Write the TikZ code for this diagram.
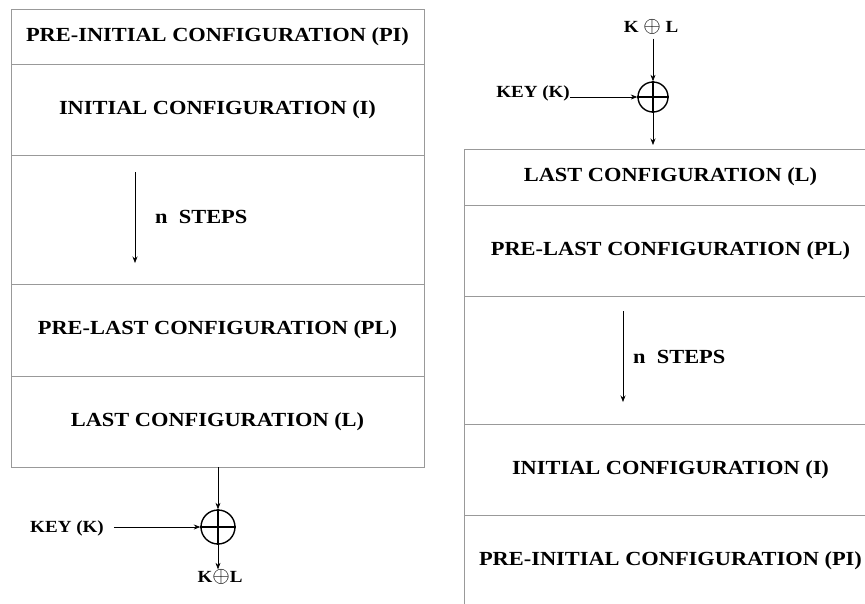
\documentclass[tikz,border=0pt]{standalone}
\usepackage{fontspec}
\setmainfont{Liberation Serif}[FakeStretch=1.12]
\usetikzlibrary{arrows.meta}
\tikzset{
  cell/.style={draw=black!40, line width=0.9pt, minimum width=413pt, inner sep=0pt, font=\fontsize{20}{24}\selectfont\bfseries},
  lbl/.style={inner sep=0pt, font=\fontsize{17}{20}\selectfont\bfseries},
  stp/.style={inner sep=0pt, anchor=west, font=\fontsize{20}{24}\selectfont\bfseries},
  arr/.style={line width=0.7pt, -{Stealth[length=6.5pt,width=5pt]}},
  xorc/.style={circle, draw, line width=1.4pt, inner sep=0pt},
}
\newcommand{\myoplus}{\raisebox{-0.5pt}{\scalebox{1.3}{$\oplus$}}}
\begin{document}
\begin{tikzpicture}[x=1pt,y=-1pt]
\useasboundingbox (0,0) rectangle (865,603);
\clip (0,0) rectangle (865,603);
% left column
\node[cell, minimum height=55pt] (l1) at (217.5,36.5) {PRE-INITIAL CONFIGURATION (PI)};
\node[cell, minimum height=91pt] (l2) at (217.5,109.5) {INITIAL CONFIGURATION (I)};
\node[cell, minimum height=129pt] (l3) at (217.5,219.5) {};
\node[cell, minimum height=92pt] (l4) at (217.5,330) {PRE-LAST CONFIGURATION (PL)};
\node[cell, minimum height=91pt] (l5) at (217.5,421.5) {LAST CONFIGURATION (L)};
\coordinate (la1) at (135,172);
\coordinate (la2) at (135,263);
\draw[arr] (la1) -- (la2);
\node[stp] (ls) at (155,217) {n\ \ STEPS};
% left xor
\node[xorc, minimum size=34pt] (xl) at (218,527) {};
\draw[line width=1.4pt] (xl.west) -- (xl.east);
\draw[line width=1.4pt] (xl.north) -- (xl.south);
\draw[arr] (l5.south -| xl) -- (xl.north);
\node[lbl] (kl) at (67,528) {KEY (K)};
\draw[arr] ([xshift=10pt]kl.east |- xl) -- (xl.west);
\node[lbl] (ol) at (220,577) {K\myoplus L};
\draw[arr] (xl.south) -- (ol.north -| xl);
% right column
\node[cell, minimum height=56pt] (r1) at (670.5,177) {LAST CONFIGURATION (L)};
\node[cell, minimum height=91pt] (r2) at (670.5,250.5) {PRE-LAST CONFIGURATION (PL)};
\node[cell, minimum height=128pt] (r3) at (670.5,360) {};
\node[cell, minimum height=91pt] (r4) at (670.5,469.5) {INITIAL CONFIGURATION (I)};
\node[cell, minimum height=91pt] (r5) at (670.5,560.5) {PRE-INITIAL CONFIGURATION (PI)};
\coordinate (ra1) at (623,311);
\coordinate (ra2) at (623,402);
\draw[arr] (ra1) -- (ra2);
\node[stp] (rs) at (633,357) {n\ \ STEPS};
% right xor
\node[lbl] (or) at (651,27) {K \myoplus\ L};
\node[xorc, minimum size=30pt] (xr) at (653,97) {};
\draw[line width=1.4pt] (xr.west) -- (xr.east);
\draw[line width=1.4pt] (xr.north) -- (xr.south);
\draw[arr] ([yshift=-4pt]or.south -| xr) -- (xr.north);
\node[lbl] (kr) at (533,93) {KEY (K)};
\draw[arr] (kr.east |- xr) -- (xr.west);
\coordinate (rb) at (653,145);
\draw[arr] (xr.south) -- (rb);
\end{tikzpicture}
\end{document}
